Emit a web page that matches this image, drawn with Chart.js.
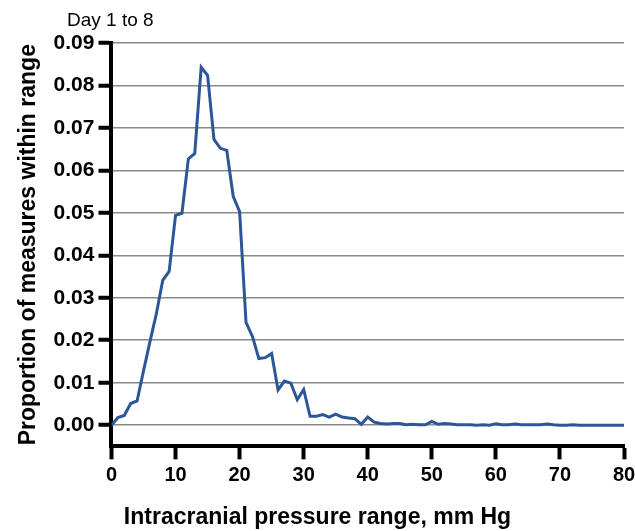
<!DOCTYPE html>
<html>
<head>
<meta charset="utf-8">
<script src="https://cdn.jsdelivr.net/npm/chart.js@4/dist/chart.umd.min.js"></script>
<style>
  html, body { margin: 0; padding: 0; background: #fff; }
  #wrap { width: 635px; height: 531px; position: relative; }
</style>
</head>
<body>
<div id="wrap"><canvas id="icp-plot"></canvas></div>
<script>
// pressure bins, mm Hg
let icp_bins = [0, 1, 2, 3, 4, 5, 6, 7, 8, 9, 10, 11, 12, 13, 14, 15, 16, 17, 18, 19, 20,
    21, 22, 23, 24, 25, 26, 27, 28, 29, 30, 31, 32, 33, 34, 35, 36, 37, 38, 39, 40,
    41, 42, 43, 44, 45, 46, 47, 48, 49, 50, 51, 52, 53, 54, 55, 56, 57, 58, 59, 60,
    61, 62, 63, 64, 65, 66, 67, 68, 69, 70, 71, 72, 73, 74, 75, 76, 77, 78, 79, 80]

// proportion of measures in each bin
let icp_proportion = [0, 0.0018, 0.0023, 0.0051, 0.0057, 0.0128, 0.0196, 0.0262, 0.0341, 0.0362,
    0.0494, 0.0499, 0.0627, 0.0640, 0.0843, 0.0824, 0.0673, 0.0652, 0.0647, 0.0539,
    0.0503, 0.0242, 0.0209, 0.0157, 0.0159, 0.0169, 0.0083, 0.0104, 0.0099, 0.0060,
    0.0084, 0.0021, 0.0021, 0.0025, 0.0019, 0.0026, 0.0019, 0.0017, 0.0015, 0.0002,
    0.0019, 0.0007, 0.0004, 0.0003, 0.0004, 0.0004, 0.0001, 0.0002, 0.0001, 0.0001,
    0.0009, 0.0002, 0.0004, 0.0003, 0.0001, 0.0001, 0.0001, 0.0000, 0.0001, 0.0000,
    0.0003, 0.0001, 0.0001, 0.0003, 0.0001, 0.0001, 0.0001, 0.0001, 0.0003, 0.0001,
    0.0000, 0.0000, 0.0001, 0.0000, 0.0000, 0.0000, 0.0000, 0.0000, 0.0000, 0.0000, 0.0000]

let y_tick_values = [0, 0.01, 0.02, 0.03, 0.04, 0.05, 0.06, 0.07, 0.08, 0.09]
let x_tick_values = [0, 10, 20, 30, 40, 50, 60, 70, 80]

let chart_subtitle = 'Day 1 to 8'
let x_title = 'Intracranial pressure range, mm Hg'
let y_title = 'Proportion of measures within range'

const FONT = '"Liberation Sans", Arial, Helvetica, sans-serif'

// small label in the top left corner
let corner_label = {
    id: 'corner_label',
    afterDraw(chart) {
        let ctx = chart.ctx
        ctx.save()
        ctx.font = '19px ' + FONT
        ctx.fillStyle = '#000'
        ctx.textBaseline = 'alphabetic'
        ctx.fillText(chart_subtitle, 67, 26)
        ctx.restore()
    }
}

Chart.defaults.font.family = FONT
Chart.defaults.color = '#000'
Chart.defaults.plugins.legend.display = false
Chart.defaults.plugins.tooltip.enabled = false
Chart.defaults.animation = false
Chart.defaults.responsive = true
Chart.defaults.maintainAspectRatio = false

let icp_points = icp_bins.map((b, i) => ({x: b, y: icp_proportion[i]}))

let icp_chart = new Chart(document.getElementById('icp-plot'), {
    type: 'line',
    data: {
        datasets: [{
            data: icp_points,
            borderColor: '#2c5697',
            borderWidth: 3,
            pointRadius: 0,
            tension: 0,
            fill: false
        }]
    },
    options: {
        layout: {padding: {left: 0, right: 0, top: 43, bottom: 0}},
        plugins: {
            title: {
                display: true,
                position: 'bottom',
                text: x_title,
                font: {size: 23, weight: 'bold'},
                padding: {top: 12, bottom: 0}
            }
        },
        scales: {
            x: {
                type: 'linear',
                min: 0,
                max: 80,
                afterBuildTicks: (s) => { s.ticks = x_tick_values.map(v => ({value: v})) },
                // let the "80" label hang over the right edge a bit, like the original
                afterFit: (s) => { s.paddingRight = 11 },
                ticks: {font: {size: 20, weight: 'bold'}, padding: 4, maxRotation: 0},
                grid: {drawOnChartArea: false, drawTicks: true, tickLength: 13, tickWidth: 4, tickColor: '#000'},
                border: {display: true, color: '#000', width: 4}
            },
            y: {
                min: -0.005,
                max: 0.09,
                afterBuildTicks: (s) => { s.ticks = y_tick_values.map(v => ({value: v})) },
                ticks: {
                    font: {size: 21, weight: 'bold'},
                    padding: 4,
                    callback: (v) => v.toFixed(2)
                },
                grid: {color: '#8a8a8a', lineWidth: 1.5, tickLength: 13, tickWidth: 4, tickColor: '#000'},
                border: {display: true, color: '#000', width: 4},
                title: {
                    display: true,
                    text: y_title,
                    font: {size: 23, weight: 'bold'},
                    padding: {top: 15, bottom: 7}
                }
            }
        }
    },
    plugins: [corner_label]
})
</script>
</body>
</html>
